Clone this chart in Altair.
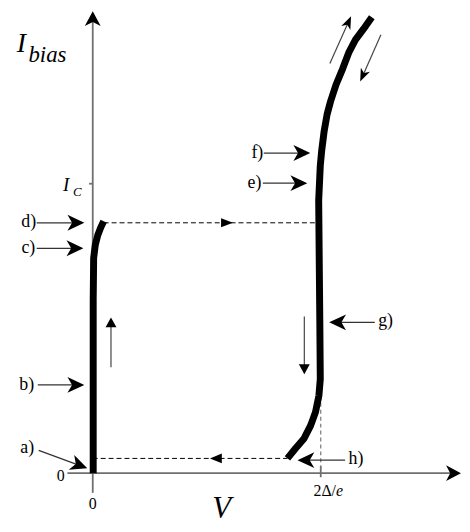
import math
import altair as alt
import pandas as pd

# ---------------- canvas / scales ----------------
W, H = 458, 518
VMIN, VMAX = -0.3717, 1.6196   # V in units of 2Δ/e
IMIN, IMAX = -0.1747, 1.5993   # I in units of I_C
PXV = W / (VMAX - VMIN)
PXI = H / (IMAX - IMIN)

# ---------------- data ----------------
# superconducting branch
sc_V = [0.002, 0.002, 0.004, 0.011, 0.022, 0.035, 0.048]
sc_I = [0.000, 0.599, 0.743, 0.788, 0.822, 0.849, 0.870]
# quasiparticle branch
qp_V = [0.854, 0.890, 0.927, 0.956, 0.977, 0.992, 0.998, 0.996, 0.993, 0.991,
        0.998, 1.004, 1.015, 1.028, 1.043, 1.067, 1.096, 1.124, 1.152, 1.187, 1.224]
qp_I = [0.051, 0.086, 0.120, 0.165, 0.211, 0.268, 0.325, 0.521, 0.771, 0.942,
        1.062, 1.113, 1.182, 1.240, 1.284, 1.342, 1.397, 1.455, 1.497, 1.534, 1.575]

# switching / retrapping levels
switch_I = 0.865
switch_V = [0.048, 1.000]
retrap_I = 0.051
retrap_V = [0.000, 0.854]
gap_V = 1.0
gap_I = [0.267, 0.017]

# pointer arrows a) ... h)
ptr_names = ["a)", "b)", "c)", "d)", "e)", "f)", "g)", "h)"]
ptr_tail_V = [-0.237, -0.241, -0.246, -0.246, 0.746, 0.750, 1.237, 1.107]
ptr_tail_I = [0.079, 0.305, 0.777, 0.865, 1.002, 1.106, 0.521, 0.045]
ptr_tip_V = [-0.024, -0.037, -0.041, -0.037, 0.941, 0.954, 1.037, 0.898]
ptr_tip_I = [0.017, 0.305, 0.777, 0.865, 1.002, 1.106, 0.521, 0.045]
lab_V = [-0.257, -0.257, -0.252, -0.248, 0.740, 0.748, 1.252, 1.122]
lab_I = [0.086, 0.305, 0.777, 0.866, 1.003, 1.106, 0.524, 0.048]
lab_align = ["right"] * 6 + ["left"] * 2

# sweep direction arrows
dir_tail_V = [0.080, 0.928, 1.040, 1.264]
dir_tail_I = [0.366, 0.541, 1.415, 1.515]
dir_tip_V = [0.080, 0.928, 1.133, 1.173]
dir_tip_I = [0.538, 0.342, 1.579, 1.353]


def head_path(ratio, concave):
    w = round(ratio, 3)
    if concave:
        return f"M1,0L-1,{-w}L-0.45,0L-1,{w}Z"
    return f"M1,0L-1,{-w}L-1,{w}Z"


def head(tV, tI, hV, hI, L, Wd, concave):
    dx = (hV - tV) * PXV
    dy = -(hI - tI) * PXI
    n = math.hypot(dx, dy)
    ux, uy = dx / n, dy / n
    ang = math.degrees(math.atan2(uy, ux)) % 360
    cV = hV - (L / 2) * ux / PXV
    cI = hI + (L / 2) * uy / PXI
    return dict(V=cV, I=cI, ang=ang, size=L * L, shape=head_path(Wd / L, concave))


heads = []
axis_rules = []
ptr_rules = []
dir_rules = []

# axes
hy = head(0, 0, 0, 1.596, 15, 16, True)
hx = head(-0.111, 0, 1.615, 0, 15, 16, True)
heads += [hy, hx]
axis_rules.append(dict(V=0, I=0, V2=0, I2=hy["I"]))
axis_rules.append(dict(V=-0.111, I=0, V2=hx["V"], I2=0))
# ticks
axis_rules.append(dict(V=-0.016, I=1.0, V2=0, I2=1.0))
axis_rules.append(dict(V=0, I=0, V2=0, I2=-0.068))
axis_rules.append(dict(V=1.0, I=0.024, V2=1.0, I2=-0.014))

for i in range(len(ptr_names)):
    h = head(ptr_tail_V[i], ptr_tail_I[i], ptr_tip_V[i], ptr_tip_I[i], 17, 16, True)
    heads.append(h)
    ptr_rules.append(dict(V=ptr_tail_V[i], I=ptr_tail_I[i], V2=h["V"], I2=h["I"]))

for i in range(len(dir_tail_V)):
    if i < 2:
        h = head(dir_tail_V[i], dir_tail_I[i], dir_tip_V[i], dir_tip_I[i], 10, 11, False)
    else:
        h = head(dir_tail_V[i], dir_tail_I[i], dir_tip_V[i], dir_tip_I[i], 13, 10, True)
    heads.append(h)
    dir_rules.append(dict(V=dir_tail_V[i], I=dir_tail_I[i], V2=h["V"], I2=h["I"]))

# heads on dashed lines
heads.append(head(0.0, switch_I, 0.615, switch_I, 12, 9, False))
heads.append(head(0.8, retrap_I, 0.514, retrap_I, 12, 10, False))

xs = alt.Scale(domain=[VMIN, VMAX], nice=False, zero=False)
ys = alt.Scale(domain=[IMIN, IMAX], nice=False, zero=False)
X = lambda f: alt.X(f, type="quantitative", scale=xs, axis=None)
Y = lambda f: alt.Y(f, type="quantitative", scale=ys, axis=None)


def rules(rows, color, width, dash=None):
    kw = dict(color=color, strokeWidth=width)
    if dash:
        kw["strokeDash"] = dash
    return alt.Chart(pd.DataFrame(rows)).mark_rule(**kw).encode(
        x=X("V"), y=Y("I"), x2="V2", y2="I2")


curves = pd.DataFrame(
    [dict(curve="sc", k=i, V=v, I=c) for i, (v, c) in enumerate(zip(sc_V, sc_I))]
    + [dict(curve="qp", k=i, V=v, I=c) for i, (v, c) in enumerate(zip(qp_V, qp_I))])

curve_layer = alt.Chart(curves).mark_line(
    color="black", strokeWidth=7, strokeCap="butt", strokeJoin="round").encode(
    x=X("V"), y=Y("I"), detail="curve:N", order="k:Q")

dash_layer = rules(
    [dict(V=switch_V[0], I=switch_I, V2=switch_V[1], I2=switch_I),
     dict(V=retrap_V[0], I=retrap_I, V2=retrap_V[1], I2=retrap_I)],
    "black", 1, [5, 3])
gap_layer = rules([dict(V=gap_V, I=gap_I[0], V2=gap_V, I2=gap_I[1])], "#777777", 1.2, [4, 3])

head_layer = alt.Chart(pd.DataFrame(heads)).mark_point(
    filled=True, color="black", opacity=1, strokeWidth=0).encode(
    x=X("V"), y=Y("I"),
    shape=alt.Shape("shape:N", scale=None),
    angle=alt.Angle("ang:Q", scale=None),
    size=alt.Size("size:Q", scale=None))


def texts(rows, size, style="normal", align="center", baseline="middle"):
    return alt.Chart(pd.DataFrame(rows)).mark_text(
        font="Liberation Serif", fontSize=size, fontStyle=style, align=align,
        baseline=baseline, color="black").encode(x=X("V"), y=Y("I"), text="t:N")


lab_right = [dict(t=ptr_names[i], V=lab_V[i], I=lab_I[i]) for i in range(8) if lab_align[i] == "right"]
lab_left = [dict(t=ptr_names[i], V=lab_V[i], I=lab_I[i]) for i in range(8) if lab_align[i] == "left"]

layers = [
    rules(axis_rules, "#6f6f6f", 1.8),
    gap_layer,
    dash_layer,
    rules(ptr_rules, "#333333", 1.3),
    rules(dir_rules, "#444444", 1.2),
    curve_layer,
    head_layer,
    texts(lab_right, 18, align="right"),
    texts(lab_left, 18, align="left"),
    texts([dict(t="0", V=-0.141, I=-0.010), dict(t="0", V=0.0, I=-0.106)], 16),
    texts([dict(t="2Δ/", V=1.067, I=-0.062)], 16, align="right"),
    texts([dict(t="e", V=1.067, I=-0.062)], 16, style="italic", align="left"),
    texts([dict(t="I", V=-0.333, I=1.455)], 28, "italic", "left", "alphabetic"),
    texts([dict(t="bias", V=-0.282, I=1.421)], 23, "italic", "left", "alphabetic"),
    texts([dict(t="I", V=-0.130, I=0.976)], 19, "italic", "left", "alphabetic"),
    texts([dict(t="C", V=-0.087, I=0.957)], 13, "italic", "left", "alphabetic"),
    texts([dict(t="V", V=0.524, I=-0.155)], 31, "italic", "left", "alphabetic"),
]

chart = alt.layer(*layers).properties(
    width=W, height=H, padding=0,
    autosize=alt.AutoSizeParams(type="none"),
    background="white",
).configure_view(stroke=None)

chart.save("out.html", embed_options={"renderer": "svg", "actions": False})
